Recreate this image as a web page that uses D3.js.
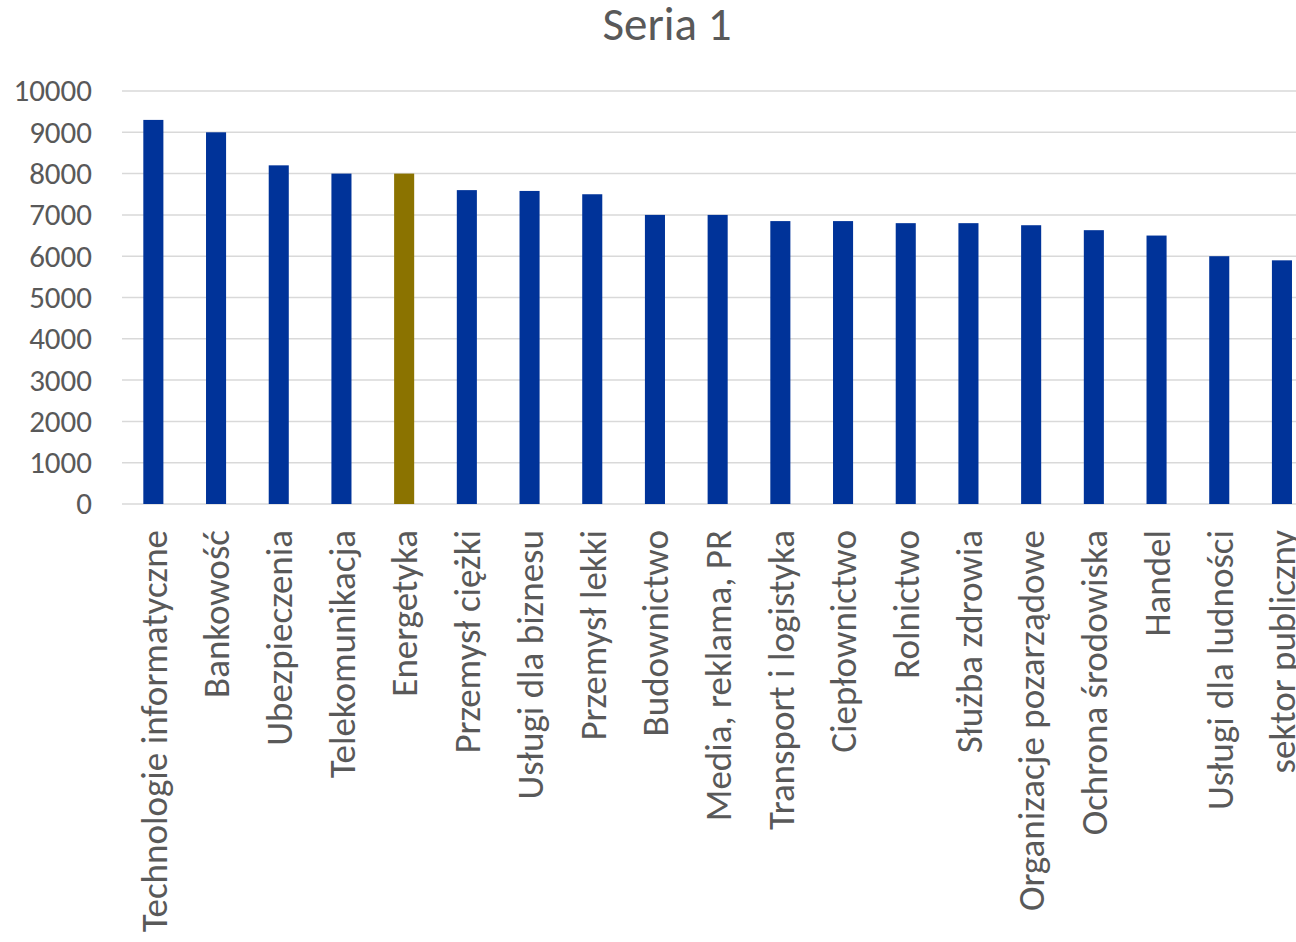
<!DOCTYPE html>
<html>
<head>
<meta charset="utf-8">
<script src="https://cdn.jsdelivr.net/npm/d3@7"></script>
<style>
  body { margin: 0; background: #fff; overflow: hidden; }
  text { font-family: Carlito, Lato, "Open Sans", sans-serif; fill: #595959; }
</style>
</head>
<body>
<svg id="chart" width="1296" height="942"></svg>
<script>
// sectors and their values (Seria 1)
var categories = ["Technologie informatyczne", "Bankowość", "Ubezpieczenia", "Telekomunikacja",
  "Energetyka", "Przemysł ciężki", "Usługi dla biznesu", "Przemysł lekki", "Budownictwo",
  "Media, reklama, PR", "Transport i logistyka", "Ciepłownictwo", "Rolnictwo", "Służba zdrowia",
  "Organizacje pozarządowe", "Ochrona środowiska", "Handel", "Usługi dla ludności", "sektor publiczny"];
var values = [9300, 9000, 8200, 8000, 8000, 7600, 7580, 7500, 7000, 7000,
  6850, 6850, 6800, 6800, 6750, 6630, 6500, 6000, 5900];
var highlighted = ["Energetyka"];
var yTicks = [0, 1000, 2000, 3000, 4000, 5000, 6000, 7000, 8000, 9000, 10000];

var svg = d3.select("#chart");

var plotLeft = 122, plotTop = 91, plotBottom = 504,
    step = 62.7;
var fontStack = "Carlito, Lato, 'Open Sans', sans-serif";

var x = d3.scaleBand()
  .domain(categories)
  .range([plotLeft, plotLeft + categories.length * step])
  .paddingInner(0.68)
  .paddingOuter(0.34);

var y = d3.scaleLinear()
  .domain([0, 10000])
  .range([plotBottom, plotTop]);

// title
svg.append("text")
  .attr("x", 667)
  .attr("y", 40)
  .attr("text-anchor", "middle")
  .style("font-size", "47px")
  .text("Seria 1");

// gridlines
svg.append("g")
  .selectAll("line")
  .data(yTicks)
  .enter().append("line")
  .attr("x1", plotLeft)
  .attr("x2", 1296)
  .attr("y1", function(d) { return y(d); })
  .attr("y2", function(d) { return y(d); })
  .attr("stroke", "#d9d9d9")
  .attr("stroke-width", 1.5);

// y axis labels
var yAxis = svg.append("g")
  .attr("transform", "translate(" + (plotLeft - 30) + ",0)")
  .call(d3.axisLeft(y).tickValues(yTicks).tickSize(0).tickPadding(0).tickFormat(d3.format("d")));
yAxis.select(".domain").remove();
yAxis.selectAll("text")
  .attr("fill", "#595959")
  .style("font-size", "31px")
  .style("font-family", fontStack);

// bars
svg.append("g")
  .selectAll("rect")
  .data(values)
  .enter().append("rect")
  .attr("x", function(d, i) { return x(categories[i]); })
  .attr("width", x.bandwidth())
  .attr("y", function(d) { return y(d); })
  .attr("height", function(d) { return y(0) - y(d); })
  .attr("fill", function(d, i) {
    return highlighted.indexOf(categories[i]) >= 0 ? "#8b7300" : "#003399";
  });

// x axis labels, rotated
var xAxis = svg.append("g")
  .attr("transform", "translate(0," + plotBottom + ")")
  .call(d3.axisBottom(x).tickSize(0).tickPadding(0));
xAxis.select(".domain").remove();
xAxis.selectAll("text")
  .attr("transform", "rotate(-90)")
  .attr("x", -26)
  .attr("y", 0)
  .attr("dy", "0.36em")
  .attr("text-anchor", "end")
  .attr("fill", "#595959")
  .style("font-size", "37px")
  .style("font-family", fontStack);
</script>
</body>
</html>
